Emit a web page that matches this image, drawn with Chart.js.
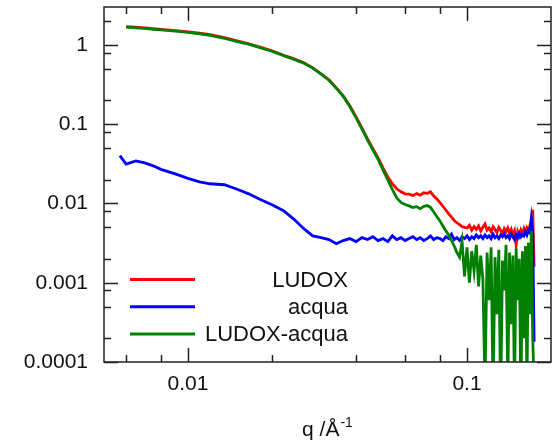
<!DOCTYPE html>
<html>
<head>
<meta charset="utf-8">
<script src="https://cdn.jsdelivr.net/npm/chart.js@4.4.1/dist/chart.umd.min.js"></script>
<style>
  html, body { margin: 0; padding: 0; background: #fff; }
  #wrap { width: 558px; height: 443px; }
</style>
</head>
<body>
<div id="wrap"><canvas id="saxs" width="558" height="443"></canvas></div>
<script>
/* SAXS curves: LUDOX, acqua (water) and the difference, log-log */

// q in 1/Å, shared by LUDOX and LUDOX-acqua
const qLudox = [
    0.006, 0.0065, 0.007, 0.0075, 0.008, 0.009, 0.010, 0.011, 0.012, 0.0135,
    0.015, 0.0165, 0.018, 0.020, 0.022, 0.024, 0.026, 0.028,
    0.030, 0.032, 0.034, 0.036, 0.038, 0.040, 0.042, 0.044, 0.046, 0.048,
    0.050, 0.052, 0.054, 0.056, 0.058, 0.060, 0.062, 0.064, 0.066, 0.068,
    0.070, 0.072, 0.074, 0.076, 0.078, 0.080, 0.082, 0.084, 0.086, 0.088,
    0.090, 0.092, 0.094, 0.096, 0.098,
    0.100, 0.102, 0.104, 0.106, 0.108, 0.110, 0.112, 0.114, 0.116, 0.118,
    0.120, 0.122, 0.124, 0.126, 0.128, 0.130, 0.132, 0.134, 0.136, 0.138,
    0.140, 0.142, 0.144, 0.146, 0.148, 0.150, 0.152, 0.154, 0.156, 0.158,
    0.160, 0.162, 0.164, 0.166, 0.168, 0.170, 0.172, 0.174
];

const iLudox = [
    1.70, 1.67, 1.64, 1.60, 1.57, 1.51, 1.46, 1.40, 1.34, 1.23,
    1.12, 1.03, 0.94, 0.84, 0.74, 0.666, 0.593, 0.513,
    0.431, 0.362, 0.287, 0.227, 0.170, 0.124, 0.0898, 0.0653, 0.0489, 0.0376,
    0.0281, 0.0216, 0.0177, 0.0153, 0.0140, 0.0132, 0.0131, 0.0126, 0.0133, 0.0127,
    0.0136, 0.0134, 0.0140, 0.0124, 0.0114, 0.0102, 0.0092, 0.0082, 0.0074, 0.0067,
    0.0061, 0.0057, 0.0054, 0.0051, 0.0050,
    0.0049, 0.0053, 0.0046, 0.0051, 0.0047, 0.0052, 0.0045, 0.0050, 0.0055, 0.0046,
    0.0049, 0.0044, 0.0051, 0.0047, 0.0043, 0.0050, 0.0046, 0.0041, 0.0048, 0.0044,
    0.0049, 0.0042, 0.0047, 0.0040, 0.0045, 0.0030, 0.0044, 0.0039, 0.0046, 0.0041,
    0.0048, 0.0043, 0.0049, 0.0045, 0.0052, 0.0060, 0.0083, 0.0016
];

const iDiff = [
    1.67, 1.64, 1.61, 1.57, 1.54, 1.49, 1.44, 1.38, 1.32, 1.21,
    1.10, 1.02, 0.93, 0.83, 0.73, 0.655, 0.588, 0.509,
    0.427, 0.358, 0.284, 0.224, 0.167, 0.121, 0.0870, 0.0630, 0.0470, 0.0360,
    0.0265, 0.0198, 0.0150, 0.0117, 0.0103, 0.0097, 0.0093, 0.0089, 0.0091, 0.0086,
    0.0092, 0.0094, 0.0089, 0.0078, 0.0068, 0.0060, 0.0052, 0.0045, 0.0040, 0.0034,
    0.0029, 0.0024, 0.0021, 0.0033, 0.0012,
    0.0028, 0.0010, 0.0025, 0.0014, 0.0030, 0.0009, 0.0022, 0.0011, 0.00005, 0.0024,
    0.0006, 0.0028, 0.00004, 0.0021, 0.0004, 0.0026, 0.00003, 0.0019, 0.0008, 0.0030,
    0.00005, 0.0024, 0.0003, 0.0022, 0.00004, 0.0027, 0.0006, 0.0020, 0.00003, 0.0025,
    0.0002, 0.0029, 0.00005, 0.0032, 0.0004, 0.0045, 0.0002, 0.00005
];

// water starts a little earlier
const qAcqua = [
    0.0057, 0.006, 0.0065, 0.007, 0.0075, 0.008, 0.009, 0.010, 0.011, 0.012, 0.0135,
    0.015, 0.0165, 0.018, 0.020, 0.022, 0.024, 0.026, 0.028,
    0.030, 0.032, 0.034, 0.036, 0.038, 0.040, 0.042, 0.044, 0.046, 0.048,
    0.050, 0.052, 0.054, 0.056, 0.058, 0.060, 0.062, 0.064, 0.066, 0.068,
    0.070, 0.072, 0.074, 0.076, 0.078, 0.080, 0.082, 0.084, 0.086, 0.088,
    0.090, 0.092, 0.094, 0.096, 0.098,
    0.100, 0.102, 0.104, 0.106, 0.108, 0.110, 0.112, 0.114, 0.116, 0.118,
    0.120, 0.122, 0.124, 0.126, 0.128, 0.130, 0.132, 0.134, 0.136, 0.138,
    0.140, 0.142, 0.144, 0.146, 0.148, 0.150, 0.152, 0.154, 0.156, 0.158,
    0.160, 0.162, 0.164, 0.166, 0.168, 0.170, 0.172, 0.174
];

const iAcqua = [
    0.040, 0.0313, 0.0344, 0.0324, 0.0298, 0.0269, 0.0236, 0.0207, 0.0187, 0.0177, 0.0172,
    0.0151, 0.0132, 0.0114, 0.0096, 0.0081, 0.0063, 0.0048, 0.0039,
    0.0037, 0.0035, 0.0031, 0.0034, 0.0036, 0.0033, 0.0037, 0.0035, 0.0038, 0.0034,
    0.0036, 0.0033, 0.0039, 0.0035, 0.0037, 0.0034, 0.0036, 0.0038, 0.0035, 0.0037,
    0.0034, 0.0036, 0.0039, 0.0035, 0.0037, 0.0036, 0.0034, 0.0038, 0.0036, 0.0041,
    0.0035, 0.0037, 0.0034, 0.0038, 0.0036,
    0.0039, 0.0035, 0.0038, 0.0036, 0.0040, 0.0037, 0.0039, 0.0036, 0.0040, 0.0037,
    0.0039, 0.0036, 0.0041, 0.0037, 0.0039, 0.0036, 0.0040, 0.0038, 0.0041, 0.0037,
    0.0039, 0.0036, 0.0041, 0.0038, 0.0035, 0.0040, 0.0037, 0.0042, 0.0038, 0.0041,
    0.0039, 0.0044, 0.0040, 0.0046, 0.0043, 0.0064, 0.0042, 0.00018
];

const seriesNames = ["LUDOX", "acqua", "LUDOX-acqua"];

// axis ticks
const xTicks = [0.01, 0.1];
const xMinor = [0.006, 0.008, 0.02, 0.04, 0.06, 0.08];
const yTicks = [0.0001, 0.001, 0.01, 0.1, 1];
const yMinor = [0.0002, 0.0005, 0.0008, 0.002, 0.005, 0.008, 0.02, 0.05, 0.08, 0.2, 0.5, 0.8, 2];

const FONT = '"Liberation Sans", Arial, Helvetica, sans-serif';
const INK = '#111';

function pts(qs, vals) {
    return qs.map((q, i) => ({ x: q, y: vals[i] }));
}

// frame with inward ticks on all four sides
const frameTicks = {
    id: 'frameTicks',
    afterDatasetsDraw(chart) {
        const { ctx, chartArea: a, scales: { x, y } } = chart;
        ctx.save();
        ctx.strokeStyle = '#222';
        ctx.lineWidth = 1.5;
        ctx.strokeRect(a.left, a.top, a.right - a.left, a.bottom - a.top);
        ctx.beginPath();
        const tickX = (v, len) => {
            const px = Math.round(x.getPixelForValue(v)) + 0.5;
            ctx.moveTo(px, a.bottom); ctx.lineTo(px, a.bottom - len);
            ctx.moveTo(px, a.top); ctx.lineTo(px, a.top + len);
        };
        const tickY = (v, len) => {
            const py = Math.round(y.getPixelForValue(v)) + 0.5;
            ctx.moveTo(a.left, py); ctx.lineTo(a.left + len, py);
            ctx.moveTo(a.right, py); ctx.lineTo(a.right - len, py);
        };
        xTicks.forEach(v => tickX(v, 14));
        xMinor.forEach(v => tickX(v, 7));
        yTicks.forEach(v => tickY(v, 14));
        yMinor.forEach(v => tickY(v, 7));
        ctx.stroke();
        ctx.restore();
    }
};

// legend sitting inside the plot, labels right aligned
const insideLegend = {
    id: 'insideLegend',
    afterDraw(chart) {
        const { ctx } = chart;
        ctx.save();
        ctx.font = '22px ' + FONT;
        ctx.textAlign = 'right';
        ctx.textBaseline = 'middle';
        chart.data.datasets.forEach((ds, i) => {
            const yy = 279.5 + i * 27.3;
            ctx.strokeStyle = ds.borderColor;
            ctx.lineWidth = 3;
            ctx.beginPath();
            ctx.moveTo(130, yy);
            ctx.lineTo(195, yy);
            ctx.stroke();
            ctx.fillStyle = INK;
            ctx.fillText(ds.label, 348, yy + 1);
        });
        ctx.restore();
    }
};

// x title with a superscript exponent
const xTitle = {
    id: 'xTitle',
    afterDraw(chart) {
        const { ctx } = chart;
        const main = 'q /Å', sup = '-1';
        ctx.save();
        ctx.fillStyle = INK;
        ctx.textBaseline = 'alphabetic';
        ctx.font = '21px ' + FONT;
        const w1 = ctx.measureText(main).width;
        ctx.font = '14px ' + FONT;
        const w2 = ctx.measureText(sup).width;
        const x0 = 327 - (w1 + w2) / 2;
        ctx.font = '21px ' + FONT;
        ctx.fillText(main, x0, 436);
        ctx.font = '14px ' + FONT;
        ctx.fillText(sup, x0 + w1 + 1, 427);
        ctx.restore();
    }
};

new Chart(document.getElementById('saxs'), {
    type: 'line',
    data: {
        datasets: [
            { label: seriesNames[0], data: pts(qLudox, iLudox), borderColor: '#ff0000', order: 3 },
            { label: seriesNames[1], data: pts(qAcqua, iAcqua), borderColor: '#0000ff', order: 2 },
            { label: seriesNames[2], data: pts(qLudox, iDiff), borderColor: '#008000', order: 1 }
        ]
    },
    options: {
        responsive: false,
        animation: false,
        events: [],
        layout: { padding: { top: 7, right: 7, left: 0, bottom: 0 } },
        elements: {
            line: { borderWidth: 2.8, tension: 0, fill: false },
            point: { radius: 0 }
        },
        plugins: {
            legend: { display: false },
            tooltip: { enabled: false }
        },
        scales: {
            x: {
                type: 'logarithmic',
                min: 0.005,
                max: 0.2,
                afterFit(s) {
                    s.height = 81;
                    s.paddingLeft = 0;
                    s.paddingRight = 0;
                },
                afterBuildTicks(s) { s.ticks = xTicks.map(v => ({ value: v })); },
                grid: { display: false, drawTicks: false },
                border: { display: false },
                ticks: {
                    autoSkip: false,
                    maxRotation: 0,
                    padding: 10,
                    color: INK,
                    font: { family: FONT, size: 21 },
                    callback: v => String(v)
                }
            },
            y: {
                type: 'logarithmic',
                min: 0.0001,
                max: 3,
                afterFit(s) {
                    s.width = 104;
                    s.paddingTop = 0;
                    s.paddingBottom = 0;
                },
                afterBuildTicks(s) { s.ticks = yTicks.map(v => ({ value: v })); },
                grid: { display: false, drawTicks: false },
                border: { display: false },
                ticks: {
                    autoSkip: false,
                    padding: 16,
                    color: INK,
                    font: { family: FONT, size: 21 },
                    callback: v => String(v)
                }
            }
        }
    },
    plugins: [frameTicks, insideLegend, xTitle]
});
</script>
</body>
</html>
